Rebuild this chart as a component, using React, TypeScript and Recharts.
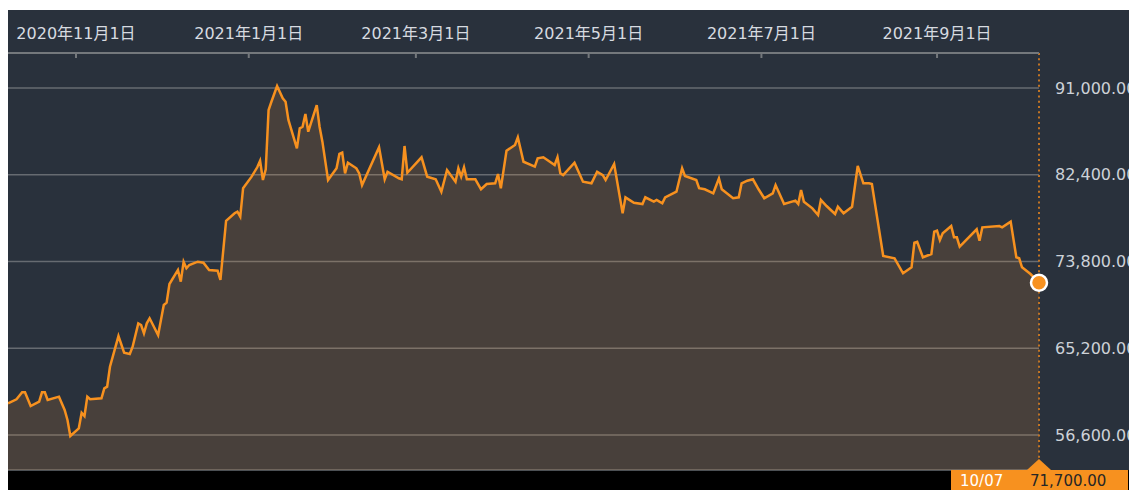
import React from 'react';
import { ComposedChart, Area, XAxis, YAxis, CartesianGrid, ReferenceLine, ReferenceDot } from 'recharts';

const dates = [
  '2020-10-08','2020-10-11','2020-10-13','2020-10-14','2020-10-16','2020-10-19','2020-10-20','2020-10-21','2020-10-22','2020-10-26',
  '2020-10-28','2020-10-29','2020-10-30','2020-11-02','2020-11-03','2020-11-04','2020-11-05','2020-11-06','2020-11-10','2020-11-11',
  '2020-11-12','2020-11-13','2020-11-16','2020-11-18','2020-11-20','2020-11-21','2020-11-23','2020-11-24','2020-11-25','2020-11-26',
  '2020-11-27','2020-11-30','2020-12-01','2020-12-02','2020-12-03','2020-12-04','2020-12-07','2020-12-08','2020-12-09','2020-12-10',
  '2020-12-11','2020-12-14','2020-12-16','2020-12-18','2020-12-21','2020-12-22','2020-12-24','2020-12-27','2020-12-28','2020-12-29',
  '2020-12-30','2021-01-02','2021-01-04','2021-01-05','2021-01-06','2021-01-07','2021-01-08','2021-01-09','2021-01-11','2021-01-13',
  '2021-01-14','2021-01-15','2021-01-18','2021-01-19','2021-01-20','2021-01-21','2021-01-22','2021-01-25','2021-01-26','2021-01-27',
  '2021-01-29','2021-02-01','2021-02-02','2021-02-03','2021-02-04','2021-02-05','2021-02-08','2021-02-09','2021-02-10','2021-02-16',
  '2021-02-18','2021-02-19','2021-02-23','2021-02-24','2021-02-25','2021-02-26','2021-03-03','2021-03-05','2021-03-08','2021-03-10',
  '2021-03-12','2021-03-15','2021-03-16','2021-03-17','2021-03-18','2021-03-19','2021-03-22','2021-03-24','2021-03-26','2021-03-29',
  '2021-03-30','2021-03-31','2021-04-02','2021-04-05','2021-04-06','2021-04-08','2021-04-12','2021-04-13','2021-04-15','2021-04-19',
  '2021-04-20','2021-04-21','2021-04-22','2021-04-26','2021-04-29','2021-05-02','2021-05-04','2021-05-06','2021-05-07','2021-05-10',
  '2021-05-13','2021-05-14','2021-05-17','2021-05-20','2021-05-21','2021-05-24','2021-05-25','2021-05-26','2021-05-27','2021-05-28',
  '2021-06-01','2021-06-03','2021-06-04','2021-06-08','2021-06-09','2021-06-11','2021-06-14','2021-06-16','2021-06-17','2021-06-21',
  '2021-06-23','2021-06-24','2021-06-26','2021-06-28','2021-06-30','2021-07-02','2021-07-05','2021-07-06','2021-07-09','2021-07-13',
  '2021-07-14','2021-07-15','2021-07-16','2021-07-19','2021-07-21','2021-07-22','2021-07-24','2021-07-27','2021-07-28','2021-07-30',
  '2021-08-02','2021-08-04','2021-08-06','2021-08-08','2021-08-09','2021-08-13','2021-08-17','2021-08-20','2021-08-23','2021-08-24',
  '2021-08-25','2021-08-27','2021-08-30','2021-08-31','2021-09-01','2021-09-02','2021-09-03','2021-09-06','2021-09-07','2021-09-08',
  '2021-09-09','2021-09-15','2021-09-16','2021-09-17','2021-09-23','2021-09-24','2021-09-27','2021-09-29','2021-09-30','2021-10-01',
  '2021-10-04','2021-10-07',
];

const prices = [
  59740,60140,60830,60830,59470,59900,60830,60830,60070,60400,
  59080,58090,56500,57260,58810,58480,60400,60140,60240,61230,
  61390,63370,66410,64760,64630,65350,67670,67500,66680,67670,
  68170,66510,68000,69490,69720,71570,72960,71800,73780,73130,
  73450,73780,73680,72960,72890,71970,77840,78580,78740,78240,
  81060,82210,83140,83790,81880,82940,88820,89640,91200,89980,
  89640,87830,85020,87000,87160,88420,86670,89310,87160,85680,
  81880,83040,84460,84590,82540,83590,83040,82540,81380,85120,
  81950,82700,82050,81950,85250,82600,84130,82210,81950,80720,
  82870,81710,83040,82210,83140,81950,81950,80960,81480,81550,
  82470,81060,84780,85350,86110,83690,83200,84030,84130,83370,
  84130,82540,82370,83590,81710,81550,82700,82370,81880,83470,
  78580,80160,79630,79500,80160,79730,79900,79730,79570,80160,
  80720,83040,82280,81880,81060,80960,80560,82050,80960,80070,
  80160,81550,81810,81950,80960,80070,80560,81380,79500,79830,
  79500,80890,79730,79070,78410,79900,79300,78510,79230,78580,
  79230,83270,81550,81550,81480,74340,74120,72630,73220,75660,
  75760,74220,74540,76750,76850,75930,76600,77320,76200,76200,
  75270,76990,75860,77190,77320,77190,77750,74220,74120,73220,
  72560,71700,
];

const tickDates = ['2020-11-01', '2021-01-01', '2021-03-01', '2021-05-01', '2021-07-01', '2021-09-01'];
const tickLabels = ['2020年11月1日', '2021年1月1日', '2021年3月1日', '2021年5月1日', '2021年7月1日', '2021年9月1日'];
const yTicks = [56600, 65200, 73800, 82400, 91000];
const yDomain = [53130, 94470];
const lastDateLabel = '10/07';
const lastPriceLabel = '71,700.00';

const FONT = "'DejaVu Sans', 'Noto Sans CJK JP', sans-serif";
const BG = '#29313c';
const ORANGE = '#f7911f';
const GRID = '#666b71';

const toTs = (d: string) => Date.parse(d + 'T00:00:00Z');
const data = dates.map((d, i) => ({ t: toTs(d), v: prices[i] }));
const tickTs = tickDates.map(toTs);
const startTs = data[0].t;
const endTs = data[data.length - 1].t;
const lastValue = prices[prices.length - 1];

const fmtY = (v: number) =>
  v.toLocaleString('en-US', { minimumFractionDigits: 2, maximumFractionDigits: 2 });

const TopTick = (props: any) => {
  const { x, y, payload } = props;
  const idx = tickTs.indexOf(payload.value);
  const label = idx >= 0 ? tickLabels[idx] : '';
  return (
    <g>
      <line x1={x} y1={y} x2={x} y2={y + 5} stroke="#74787c" strokeWidth={2} />
      <text x={x} y={y - 14} textAnchor="middle" fill="#d7dbe0" fontSize={16} fontFamily={FONT}>
        {label}
      </text>
    </g>
  );
};

const EndLabel = (props: any) => {
  const vb = props.viewBox || {};
  const x = vb.x;
  const bottom = vb.y + vb.height;
  return (
    <g>
      <polygon points={`${x},${bottom - 11} ${x - 12},${bottom} ${x + 12},${bottom}`} fill={ORANGE} />
      <rect x={x - 88} y={bottom} width={177} height={26} fill={ORANGE} />
      <text x={x - 79} y={bottom + 16} fill="#ffffff" fontSize={15} fontFamily={FONT}>
        {lastDateLabel}
      </text>
      <text x={x - 9} y={bottom + 16} fill="#262626" fontSize={15} fontFamily={FONT}>
        {lastPriceLabel}
      </text>
    </g>
  );
};

export default function App() {
  return (
    <div style={{ paddingTop: 2 }}>
      <style>{`html,body{overflow:hidden;}`}</style>
      <div
        style={{
          width: 1129,
          height: 480,
          background: `linear-gradient(to bottom, ${BG} 0px, ${BG} 460px, #000 460px, #000 480px)`,
        }}
      >
        <ComposedChart width={1129} height={480} data={data} margin={{ top: 13, right: 0, bottom: 20, left: 0 }}>
          <CartesianGrid vertical={false} stroke={GRID} strokeWidth={1.5} />
          <XAxis
            dataKey="t"
            type="number"
            scale="time"
            domain={[startTs, endTs]}
            ticks={tickTs}
            orientation="top"
            height={30}
            axisLine={{ stroke: '#74787c', strokeWidth: 2 }}
            tickLine={false}
            tickSize={0}
            tickMargin={0}
            tick={<TopTick />}
            interval={0}
          />
          <YAxis
            orientation="right"
            width={98}
            domain={yDomain}
            ticks={yTicks}
            axisLine={false}
            tickLine={false}
            tickSize={0}
            tickMargin={16}
            tickFormatter={fmtY}
            tick={{ fill: '#cdd2d8', fontSize: 16, fontFamily: FONT }}
            interval={0}
          />
          <Area
            type="linear"
            dataKey="v"
            stroke={ORANGE}
            strokeWidth={2.5}
            fill="#ff9d36"
            fillOpacity={0.15}
            dot={false}
            activeDot={false}
            isAnimationActive={false}
          />
          <ReferenceLine
            x={endTs}
            stroke="#c27424"
            strokeWidth={2}
            strokeDasharray="2 3.3"
            label={<EndLabel />}
          />
          <ReferenceDot x={endTs} y={lastValue} r={8} fill={ORANGE} stroke="#ffffff" strokeWidth={2.5} />
        </ComposedChart>
      </div>
    </div>
  );
}
